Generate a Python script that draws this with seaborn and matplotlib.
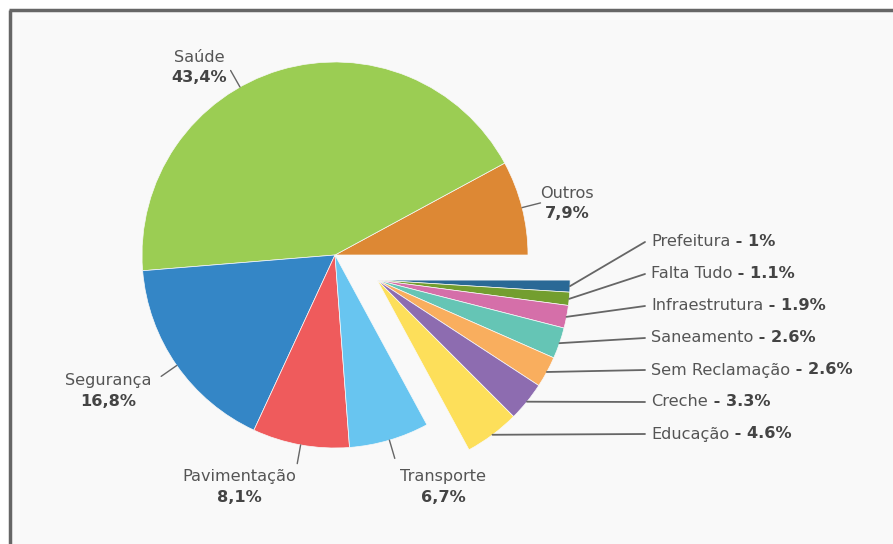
import numpy as np
import matplotlib
matplotlib.use("Agg")
import matplotlib.pyplot as plt
import seaborn as sns

# main slices (percent) - drawn counter-clockwise from 3 o'clock
main_labels = ["Outros", "Saúde", "Segurança", "Pavimentação", "Transporte"]
main_values = [7.9, 43.4, 16.8, 8.1, 6.7]
main_colors = ["#DD8834", "#9BCD53", "#3486C6", "#EF5B5C", "#68C5F0"]

# exploded group of small slices - drawn clockwise from 3 o'clock
small_labels = ["Prefeitura", "Falta Tudo", "Infraestrutura", "Saneamento",
                "Sem Reclamação", "Creche", "Educação"]
small_values = [1.0, 1.1, 1.9, 2.6, 2.6, 3.3, 4.6]
small_colors = ["#2A6996", "#739E2F", "#D56FA9", "#65C5B5", "#F9AE5E",
                "#8D6CB0", "#FDDF5A"]

# layout (pixels, top-left origin)
W, H = 893, 544
CX, CY, R = 335, 255, 193
EXPLODE = 49
main_text_pos = {"Outros": (567, 193), "Saúde": (199, 57), "Segurança": (108, 381),
                 "Pavimentação": (239, 477), "Transporte": (443, 477)}
main_anchor_angle = {"Saúde": 119.5}
small_text_x, small_text_y0, small_text_dy = 651, 242, 32

sns.set_theme(style="white")
plt.rcParams["font.family"] = ["DejaVu Sans"]
TXT = "#555555"
BOLD = "#444444"
FS = 11.6

fig = plt.figure(figsize=(W / 100, H / 100), dpi=100)
fig.patch.set_facecolor("white")
ax = fig.add_axes([0, 0, 1, 1])


def Y(y):
    return H - y


# panel background with frame on top/left
ax.add_patch(plt.Rectangle((10, 0), W, Y(9.5), facecolor="#F9F9F9",
                           edgecolor="none", zorder=0))
ax.plot([10, 10], [0, Y(9.5)], color="#666666", lw=2.5, solid_capstyle="butt", zorder=1)
ax.plot([8.8, W], [Y(9.5), Y(9.5)], color="#666666", lw=2.5, solid_capstyle="butt", zorder=1)

wp = dict(edgecolor="#F9F9F9", linewidth=0.5)
ax.pie(np.array(main_values) / 100, colors=main_colors, startangle=0,
       counterclock=True, normalize=False, radius=R, center=(CX, Y(CY)),
       wedgeprops=wp, frame=True)

small_total = sum(small_values)
mid = np.deg2rad(-small_total / 2 * 3.6)
scx = CX + EXPLODE * np.cos(mid)
scy = CY - EXPLODE * np.sin(mid)
ax.pie(np.array(small_values) / 100, colors=small_colors, startangle=0,
       counterclock=False, normalize=False, radius=R, center=(scx, Y(scy)),
       wedgeprops=wp, frame=True)
ax.set_xlim(0, W)
ax.set_ylim(0, H)
ax.set_aspect("equal")
ax.axis("off")

# main labels with radial connectors
start = 0.0
for lab, val in zip(main_labels, main_values):
    ang = start + val * 3.6 / 2
    start += val * 3.6
    ang = np.deg2rad(main_anchor_angle.get(lab, ang))
    x0, y0 = CX + R * np.cos(ang), CY - R * np.sin(ang)
    x1, y1 = CX + (R + 19) * np.cos(ang), CY - (R + 19) * np.sin(ang)
    ax.plot([x0, x1], [Y(y0), Y(y1)], color="#666666", lw=1, zorder=3)
    tx, ty = main_text_pos[lab]
    ax.text(tx, Y(ty), lab, ha="center", va="center", fontsize=FS, color=TXT)
    ax.text(tx, Y(ty + 21), f"{val:.1f}%".replace(".", ","), ha="center",
            va="center", fontsize=FS, color=BOLD, fontweight="bold")

# small labels: connector to a stacked list at right
renderer = fig.canvas.get_renderer()
start = 0.0
for i, (lab, val) in enumerate(zip(small_labels, small_values)):
    ang = np.deg2rad(-(start + val * 3.6 / 2))
    start += val * 3.6
    x0, y0 = scx + R * np.cos(ang), scy - R * np.sin(ang)
    ty = small_text_y0 + i * small_text_dy
    ax.plot([x0, small_text_x - 6], [Y(y0), Y(ty)], color="#666666", lw=1.3, zorder=3)
    t = ax.text(small_text_x, Y(ty), lab, ha="left", va="center",
                fontsize=FS, color=TXT)
    bb = t.get_window_extent(renderer=renderer)
    vs = f"{val:g}%" if val != int(val) else f"{int(val)}%"
    ax.text(bb.x1, Y(ty), f" - {vs}", ha="left", va="center", fontsize=FS,
            color=BOLD, fontweight="bold")

fig.savefig("out.png", dpi=100, facecolor=fig.get_facecolor())
